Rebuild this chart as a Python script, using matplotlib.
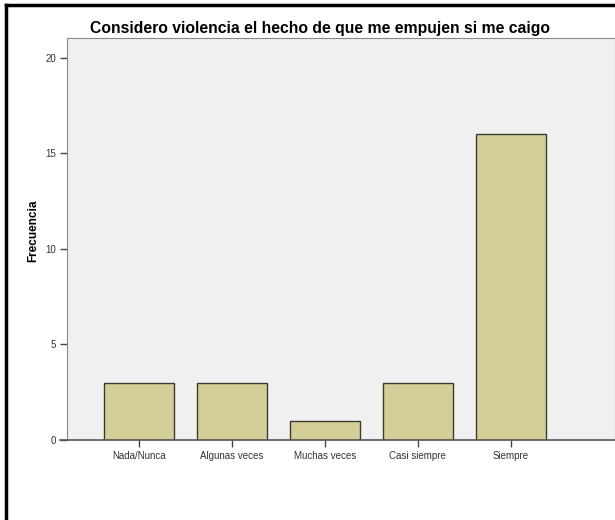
import matplotlib.pyplot as plt
from matplotlib.lines import Line2D

categorias = ['Nada/Nunca', 'Algunas veces', 'Muchas veces', 'Casi siempre', 'Siempre']
frecuencia = [3, 3, 1, 3, 16]
yticks = [0, 5, 10, 15, 20]

plt.rcParams['font.family'] = ['Liberation Sans', 'DejaVu Sans']

fig = plt.figure(figsize=(6.15, 5.2), dpi=100)
ax = fig.add_axes([67/615, 80/520, 548/615, 402.5/520])
ax.set_facecolor('#F0F0F0')

x = list(range(len(categorias)))
ax.bar(x, frecuencia, width=0.75, color='#D4CF98', edgecolor='#3C3A2C', linewidth=1.0, zorder=2)

ax.set_xlim(-0.774, 5.12)
ax.set_ylim(0, 21.07)
ax.set_yticks(yticks)
ax.set_xticks(x)
ax.set_xticklabels(categorias)
ax.tick_params(axis='both', labelsize=7, labelcolor='#333333', color='#444444',
               length=5, width=1, direction='out', pad=3)

for s in ['left', 'top', 'right']:
    ax.spines[s].set_color('#888888')
ax.spines['bottom'].set_color('#555555')
ax.spines['bottom'].set_linewidth(1.2)

ax.set_ylabel('Frecuencia', fontsize=8.5, fontweight='bold')
ax.yaxis.set_label_coords(-0.05, 0.52)

fig.text(320/615, 1 - 28/520, 'Considero violencia el hecho de que me empujen si me caigo',
         ha='center', va='center', fontsize=11.3, fontweight='bold')

# marco exterior y prolongacion del eje x
fig.add_artist(Line2D([6/615, 6/615], [0, 1 - 5/520], color='black', linewidth=2.5, transform=fig.transFigure))
fig.add_artist(Line2D([6/615, 1], [1 - 5/520, 1 - 5/520], color='black', linewidth=2.5, transform=fig.transFigure))
fig.add_artist(Line2D([60/615, 67/615], [80/520, 80/520], color='#555555', linewidth=1.2, transform=fig.transFigure))

fig.savefig('out.png', dpi=100)
